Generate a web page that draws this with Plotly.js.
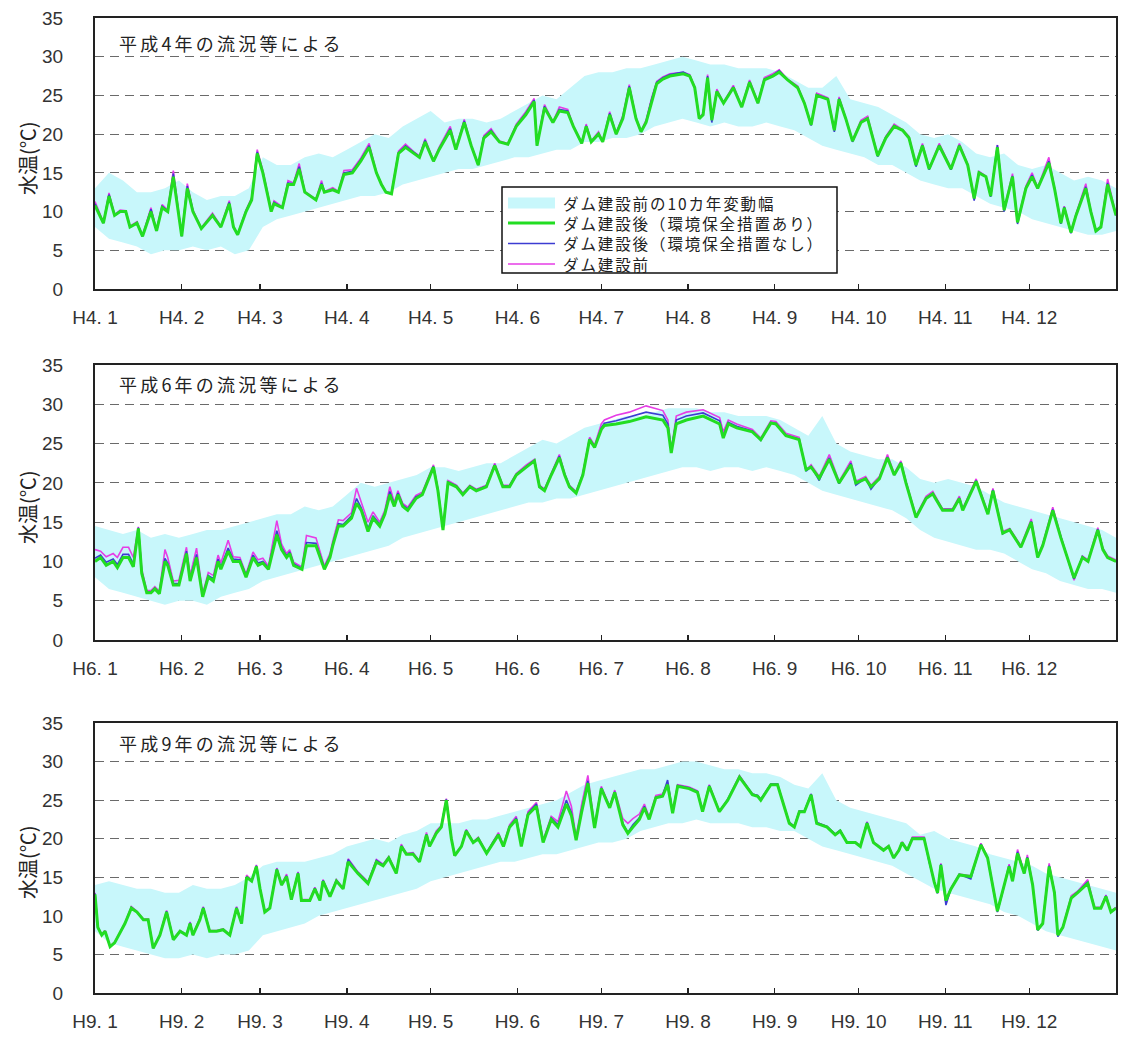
<!DOCTYPE html>
<html>
<head>
<meta charset="utf-8">
<script src="https://cdn.plot.ly/plotly-3.0.1.min.js"></script>
<style>
body{margin:0;background:#fff}
#chart{width:1121px;height:1046px}
</style>
</head>
<body>
<div id="chart"></div>
<script>
// ---------- tick labels ----------
const monthStarts = [0,31,59,90,120,151,181,212,243,273,304,334];
const monthNames = ['1','2','3','4','5','6','7','8','9','10','11','12'];
const yearLabels = ['H4','H6','H9'];
const panelTitles = ['平成4年の流況等による','平成6年の流況等による','平成9年の流況等による'];
const yTitle = '水温(℃)';
const seriesNames = ['ダム建設前の10カ年変動幅','ダム建設後（環境保全措置あり）','ダム建設後（環境保全措置なし）','ダム建設前'];

// ---------- band (10-year range before dam), every 5 days ----------
const bandDays = [0,5,10,15,20,25,30,35,40,45,50,55,60,65,70,75,80,85,90,95,
100,105,110,115,120,125,130,135,140,145,150,155,160,165,170,175,180,185,190,195,
200,205,210,215,220,225,230,235,240,245,250,255,260,265,270,275,280,285,290,295,
300,305,310,315,320,325,330,335,340,345,350,355,360,365];

const bandUpperH4 = [13,15,14,12.5,12.5,13,14,12.5,11.5,12, 12,13,17,16,16,17,17.5,17,18,19,
20,19.5,21,22,23,21.5,22,22,21.5,22, 23,24,25,24.5,26,27.5,28,28,28.5,28.5,
29,29.5,30,29.5,29,29,28.5,28.5,28.5,28, 27,26,26,27.5,24.5,24,23.5,22.5,21.5,20,
19.5,20,19,17.5,17,17.5,16,15.5,16,15, 14,14.5,14,13];
const bandLowerH4 = [8,6.5,6,5.5,4.5,5,5,5.5,5,5.5, 4.5,5,8,9,9.5,10,10.5,11,11.5,12,
12,12.5,13.5,14,14.5,15,15.5,15.5,16,16.5, 17,17,17.5,18,18,19,19,19.5,19.5,20,
21,21.5,22,21.5,21,21.5,21,21,21.5,21, 20.5,19.5,18.5,18,17.5,17,16,16,15,14,
13.5,13,13,12,11,10.5,10,9,8.5,8, 7.5,7,7,7.5];

const bandUpperH6 = [14.5,14,13.5,14,13,13.5,13,13.5,14,14, 14.5,15,15.5,16,16,17,16.5,17,18.5,20,
19.5,20,20.5,21,22,22,21.5,22,22.5,22.5, 23.5,24.5,25.5,25,26,27,27.5,28,28.5,28.5,
29,29.5,29.5,29.5,29,29,28.5,28.5,28.5,28, 27,26,28.5,25,24,23.5,23,23,22,20.5,
20,20.5,20,19.5,18.5,17.5,17,16.5,16,15.5, 15,14.5,14,13];
const bandLowerH6 = [8,6.5,6,5.5,5,4.5,5,5,4.5,5.5, 6,6.5,7.5,8,8.5,9,9.5,10,10.5,11,
11.5,12,13,13.5,14,14.5,15,15.5,16,16.5, 17,17.5,17.5,18,18,18.5,19,19.5,20,20.5,
21,21.5,22,22,21.5,22,22,21.5,22,21.5, 21,20,19,18.5,18,17.5,17,16.5,15.5,14,
13,12.5,12,11.5,11.5,11,10,9,8.5,7.5, 7,6.5,6.5,6];

const bandUpperH9 = [14,14.5,14,13.5,13.5,13,13,14,13.5,13.5, 14,15,16.5,17,17,17,17.5,18,19,19.5,
20,19.5,20.5,21,22,22,22,22.5,22.5,23, 23.5,24,24.5,25,26,27,27.5,28,28.5,29,
29,29.5,30,30,29.5,29,29,28.5,28.5,28, 27,26.5,28.5,25,24,23.5,23,22.5,22,20.5,
21,20,19.5,19,18,17.5,17,16.5,15.5,15, 14.5,14,13.5,13];
const bandLowerH9 = [8,6.5,6,5.5,5,4.5,4.5,5,4.5,5, 5,5.5,7.5,8,8.5,9,10,10.5,11,11.5,
12,12.5,13,13.5,14.5,15,15.5,16,16.5,17, 17,17.5,18,18,18.5,19,19.5,19.5,20,21,
21.5,22,22,22.5,22,22,22,21.5,21.5,21, 21,20,19,18.5,18,17.5,17,16.5,15.5,14.5,
13.5,13,12.5,12,11.5,10.5,10,9,8,7.5, 7,6.5,6,5.5];

// ---------- H4 lines ----------
const daysH4 = [0,3,5,7,9,11,12.5,15,17,20, 22,24,26,28,31,33,35,38,42,45,
48,49.5,51,54,56,58,60,63,64,67, 69,71,73,75,79,81,82,85,87,89,
92,95,98,100.6,102.4,104,106,108.5,111,114, 116,118,121,123,127,129,132,134.5,137,139,
141.6,144.6,147.6,150.6,154,157,158,160.7,163.7,166, 169,171,174,175.6,177.4,180,181.5,184,186.3,188.7,
191,193.4,195.2,197,199,200.8,203,205.5,210.3,212.6, 214.4,216,217.4,219,220.5,222.3,224.7,228.2,231.2,234,
237,239.3,242.3,244.6,247.6,251.2,253.6,256,258,262, 264.3,266,268.4,270.8,273.8,276.2,279.8,282.7,285.7,288.7,
291,293.5,295.8,298.2,301.8,306,309,312,314.3,316, 318.5,320.2,322.6,325,328,329.8,332.8,335,337,341,
343,345.3,346.5,348.9,350.7,354.2,356,357.8,359.6,362, 365];
const withH4 = [10.8,8.5,12,9.5,10,10,8,8.5,6.8,10, 7.5,10.5,10,14.5,6.8,13,10,7.8,9.5,8,
11,8,7,10,11.5,17.5,15,10,11,10.5, 13.5,13.5,15.5,12.5,11.5,13.5,12.5,12.8,12.5,14.8,
15,16.5,18.3,15,13.5,12.5,12.3,17.5,18.3,17.5, 17,19,16.5,18,20.5,18,21.5,18.5,16,19.5,
20.3,19,18.7,21,22.5,24.2,18.5,23.4,21.5,23, 22.8,21,18.8,21,19,20,19,22.5,20,22,
26,22,20.3,21.5,24.3,26.5,27.1,27.5,27.8,27.5, 26,22,22.5,27.3,21.8,25.5,24,26,23.5,26.7,
24,27,27.5,28,27,26,24,21.2,25,24.5, 20.5,24.5,22,19.1,21.5,22,17.2,19.5,21,20.5,
19.5,16,18.5,15.5,18.5,15.5,18.5,16,11.7,15, 14.5,12,18.3,10.2,14.5,8.6,13,14.5,13,16.3,
13,8.5,10.5,7.3,9.5,13,10,7.5,8,13.5, 9.5];
const withoutH4 = [11,8.5,12.2,9.5,10.1,10,8,8.6,6.8,10.3, 7.5,10.7,10.1,14.9,6.8,13.3,10.1,7.8,9.6,8,
11.2,8,7,10.1,11.6,17.7,15.1,10.1,11.2,10.5, 13.7,13.6,15.8,12.5,11.5,13.7,12.5,12.9,12.5,15,
15.2,16.7,18.5,15,13.5,12.5,12.3,17.6,18.5,17.6, 17.1,19.2,16.5,18.1,20.7,18,21.7,18.5,16,19.6,
20.5,19,18.7,21.1,22.7,24.4,18.5,23.6,21.5,23.2, 23,21,18.8,21.1,19,20.1,19,22.7,20,22.2,
26.2,22,20.3,21.6,24.5,26.7,27.3,27.7,28,27.6, 26,22,22.6,27.5,21.5,25.6,24,26.1,23.5,26.8,
24,27.1,27.6,28.2,27,26.1,24,21.1,25.1,24.6, 20.3,24.6,22,19,21.6,22.1,17.1,19.6,21.1,20.5,
19.5,15.8,18.6,15.4,18.6,15.4,18.6,16,11.4,15.1, 14.5,11.9,18.6,10,14.6,8.4,13.1,14.7,13,16.5,
13,8.4,10.6,7.2,9.6,13.2,10,7.4,8,13.7, 9.5];
const preH4 = [11.3,8.6,12.4,9.6,10.2,10.1,8.1,8.7,6.9,10.5, 7.6,10.9,10.2,15.3,6.9,13.6,10.2,7.9,9.8,8.1,
11.4,8.1,7.1,10.2,11.8,18,15.3,10.2,11.4,10.6, 14,13.7,16.2,12.6,11.6,14,12.6,13.1,12.6,15.3,
15.4,16.9,18.8,15.1,13.6,12.6,12.4,17.8,18.7,17.7, 17.2,19.4,16.6,18.3,21,18.1,21.9,18.6,16.1,19.8,
20.7,19.1,18.8,21.3,22.9,24.6,18.6,23.8,21.6,23.5, 23.2,21.1,18.9,21.3,19.1,20.3,19.1,22.9,20.1,22.4,
26.4,22.1,20.4,21.8,24.7,26.8,27.4,27.8,28,27.7, 26.1,22.1,22.7,27.7,21.9,25.8,24.1,26.3,23.6,27,
24.1,27.3,27.8,28.3,27.1,26.2,24.1,21.3,25.3,24.7, 20.6,24.8,22.1,19.2,21.8,22.3,17.3,19.7,21.3,20.6,
19.7,16.1,18.8,15.6,18.8,15.6,18.8,16.1,11.8,15.2, 14.6,12.1,18.6,10.3,14.9,8.7,13.3,15,13.1,17,
13.1,8.6,10.7,7.4,9.7,13.6,10.1,7.6,8.1,14.2, 9.6];

// ---------- H6 lines ----------
const daysH6 = [0,2,4,6.5,8,10,12,13.7,15.5,16.7, 18.5,20,21.4,23,25,26,28,30,32.7,34,
36.3,38.5,40.5,42.3,44,45,47.6,49.4,51.8,54, 56.5,58.3,60,62,65,66.7,68.5,69.6,71,74,
75.6,79,82,84,85,87,88.7,91.7,93.5,95.2, 97.6,99.4,101.8,103.6,105.4,107,108.3,110,111.8,114.7,
117,121,122.6,124.4,126.2,129.2,131.5,134,136.3,139.9, 142.9,145.8,148.2,150.6,154.2,157.1,158.9,160.7,163.1,166,
167.9,169.6,172,174.4,176.8,178.6,181,182.1,186.3,191, 197,203,204.8,206,207.8,211.4,217.4,223.3,224.6,226.4,
229.4,235,238,241.6,243.4,247,251.7,254.2,256,258.9, 262.5,266,270.2,272,275.5,277.4,280.4,283.3,285.7,288.1,
289.9,293.5,297.1,299.5,303,306.6,309,310.2,315,319.2, 321,324.5,327,331,334.7,337,338.8,342.4,345.3,350,
353,355,358.5,360.3,362,365];
const withH6 = [10,10.5,9.5,10,9.2,10.5,10.5,9.3,14.2,8.5, 6,6,6.5,5.9,10,9.5,7,7,11,7.5,
10.5,5.5,8,7.5,10,9,11.3,10,10,8, 10.5,9.5,9.8,9,13.4,11.5,10.5,11,9.5,9,
12,12,9,10.5,12,14.5,14.5,15.5,17.4,16.5, 13.8,15.5,14.5,16,18.5,17,18.5,17,16.5,18,
18.5,22,19,14,20,19.5,18.5,19.5,19,19.5, 22.2,19.5,19.5,21,22,22.8,19.5,19,21,23.2,
21,19.5,18.7,21,25.5,24.5,26.8,27.3,27.5,27.8, 28.4,28,27,23.8,27.5,28,28.5,27.5,25.7,27.5,
27,26.5,25.5,27.6,27.5,26,25.5,21.7,22,20.6, 23,20,22.3,20,20.5,19.5,20.5,23.2,21,22.5,
20,15.6,18,18.6,16.5,16.5,18,16.5,20.2,16, 19,13.6,14,11.8,15,10.5,12,16.5,13,7.9,
10.5,10,14,11.5,10.5,10];
const withoutH6 = [10.4,10.8,9.9,10.3,9.6,10.9,10.9,9.7,14.3,8.7, 6.1,6.1,6.6,6,10.4,9.8,7.2,7.2,11.3,7.8,
10.9,5.6,8.2,7.8,10.3,9.3,11.7,10.3,10.2,8.2, 10.8,9.8,10,9.2,13.9,11.8,10.7,11.2,9.7,9.1,
12.4,12.3,9.2,10.7,12.2,14.8,14.7,15.8,18,16.8, 14.2,15.8,14.7,16.2,18.9,17.2,18.7,17.2,16.7,18.2,
18.6,22.1,19.1,14,20.1,19.6,18.6,19.6,19.1,19.6, 22.3,19.6,19.6,21.1,22.1,22.9,19.6,19.1,21.1,23.4,
21.1,19.6,18.8,21.1,25.6,24.6,27,27.6,27.9,28.4, 29,28.6,27.5,24,28,28.5,28.9,27.9,26,27.7,
27.2,26.6,25.4,27.7,27.6,26.1,25.6,21.5,22.1,20.3, 23.2,19.9,22.5,19.7,20.6,19.2,20.6,23.3,21,22.6,
20.1,15.6,18.1,18.7,16.6,16.6,18.1,16.6,20.3,16.1, 19.1,13.5,14.1,11.8,15.1,10.5,12.1,16.6,13.1,7.8,
10.6,10,14.1,11.6,10.5,10];
const preH6 = [11.5,11.3,10.6,11,10.5,11.8,11.8,10.5,14.4,9, 6.3,6.3,6.8,6.2,11.5,10.5,7.5,7.6,11.8,8.2,
11.7,5.9,8.6,8.2,10.8,9.8,12.7,10.6,10.5,8.4, 11.2,10.2,10.4,9.4,15.2,12.2,11,11.5,9.9,9.3,
13.3,13,9.4,11,12.6,15.3,15.2,16.2,19.3,17.5, 15,16.3,15,16.5,19.5,17.5,19,17.4,16.9,18.4,
18.8,22.3,19.2,14.2,20.3,19.7,18.7,19.7,19.2,19.7, 22.5,19.7,19.7,21.2,22.3,23,19.7,19.2,21.2,23.6,
21.2,19.7,18.9,21.2,25.8,24.8,27.5,28,28.6,29, 29.8,29.2,28,24.2,28.5,29,29.3,28.3,26.5,28,
27.5,26.8,25.7,27.9,27.8,26.3,25.8,21.6,22.3,20.8, 23.6,20.2,22.8,20.2,20.8,19.7,20.8,23.6,21.2,22.8,
20.2,15.8,18.3,18.9,16.7,16.7,18.3,16.7,20.5,16.2, 19.3,13.8,14.2,12,15.4,10.7,12.2,16.9,13.2,7.6,
10.7,10.2,14.3,11.7,10.7,10.2];

// ---------- H9 lines ----------
const daysH9 = [0,1,2.4,3.6,5.4,7,10.7,13,15,17.3, 19,20.8,23.2,25.6,28,30.4,32.7,34,35,37.5,
38.7,41,43.5,45.8,48.2,50.6,52.4,54.2,56,57.7, 59,60.7,62.5,65,66.7,68.5,70.2,72.6,73.8,76.8,
78.6,80.4,81.5,84,86.3,88.7,90.5,94,97.6,100.6, 103,105,107.7,109.5,111.3,113.7,116,118.5,119.6,122,
123.8,125.6,127.4,128.6,131,132.7,135.2,137,140,142.3, 144.2,146,148.2,150.6,152.4,154.8,157.8,160.2,163.1,165.5,
168.5,170.3,172,174,176.2,178.6,181,184,185.8,188.7, 190.5,192.3,194.6,196.4,198.1,200.5,202.9,204.7,206.5,208.3,
212.4,215.4,217.2,219.6,223.2,226.2,230.4,235,236.9,238, 241.6,244,246.4,248.2,250,251.8,253.6,256,258,261.7,
264.6,266.4,268.8,271.8,273.6,276,278.3,281.9,283.7,285.5, 287.4,288.5,290.4,292.2,296.4,298.2,300,301.2,302.4,304.2,
306,309,313.1,316.7,319.1,322.6,324.4,326.8,328,329.8, 332.2,333.3,335.2,337,338.8,341.1,343,344.2,346,349,
351.3,354.9,357.3,359.6,361.4,363.2,365];
const withH9 = [12.8,8.5,7.5,8,6,6.5,9,11,10.5,9.5, 9.5,5.8,7.5,10.5,6.9,8,7.5,9,7.5,9.5,
11,8,8,8.2,7.5,11,9,15,14.5,16.4, 13.5,10.5,11,16,14,15.1,12.1,15.5,12,12,
13.5,12,14.5,12.5,14.5,13.5,17,15.5,14.2,17, 16.5,17.5,15.5,19,18,18,17,20.5,19,20.7,
21.5,25,20,17.8,19,21,19.5,20,18.1,19.5, 20.5,19,21.5,22.5,19,23.1,24.2,19.5,22.5,21.5,
24.5,23,19.8,23.5,27.2,21.4,26.5,24,26,21.8, 20.7,21.5,22.5,24,22.5,25.3,25.5,27,23.3,26.8,
26.5,26,23.5,26.8,23.5,25,28,25.7,25.5,25, 27,27,24,22,21.5,23.5,23.5,25.7,22,21.5,
20.5,21,19.5,19.5,19,22,19.5,18.5,19,17.5, 18.5,19.5,18.5,20,20,17,14.4,13,16.6,12,
13.5,15.3,15.1,19.2,17.5,10.6,13,16.4,14.5,18.1, 15.5,17.5,14,8.2,9,16.4,13,7.5,8.5,12.3,
13,14.2,11,11,12.5,10.5,11];
const withoutH9 = [12.9,8.5,7.5,8,6,6.5,9,11.1,10.5,9.5, 9.5,5.8,7.5,10.6,6.9,8,7.5,9.1,7.5,9.6,
11.1,8,8,8.2,7.5,11.1,9,15.1,14.5,16.5, 13.5,10.5,11,16.1,14,15.2,12.1,15.6,12,12,
13.6,12,14.6,12.5,14.6,13.5,17.3,15.6,14.3,17.2, 16.6,17.6,15.5,19.1,18,18.1,17,20.6,19,20.8,
21.6,25.1,20,17.8,19,21.1,19.5,20.1,18.1,19.6, 20.6,19.1,21.6,22.7,19.1,23.3,24.5,19.6,22.7,21.8,
25,23.4,19.9,23.8,27.5,21.5,26.6,24.1,26.1,22, 20.8,21.8,22.7,24.2,22.6,25.4,25.6,27.6,23.4,26.9,
26.6,26.1,23.5,26.9,23.5,25.1,28.1,25.8,25.6,25.1, 27.1,27.1,24.1,22.1,21.6,23.6,23.6,25.8,22.1,21.6,
20.6,21.1,19.5,19.5,19,22.1,19.5,18.5,19,17.5, 18.5,19.5,18.5,20.1,20.1,17,14.4,12.9,16.7,11.4,
13.5,15.4,14.8,19.3,17.5,10.5,13,16.5,14.5,18.3, 15.5,17.6,14,8.1,9,16.5,13,7.3,8.5,12.4,
13.1,14.4,11,11,12.6,10.5,11];
const preH9 = [13,8.6,7.6,8.1,6.1,6.6,9.1,11.2,10.6,9.6, 9.6,5.9,7.6,10.7,7,8.1,7.6,9.2,7.6,9.7,
11.2,8.1,8.1,8.3,7.6,11.2,9.1,15.3,14.6,16.6, 13.6,10.6,11.1,16.2,14.1,15.4,12.2,15.7,12.1,12.1,
13.7,12.1,14.7,12.6,14.7,13.6,17.4,15.7,14.4,17.3, 16.7,17.7,15.6,19.3,18.1,18.2,17.1,20.8,19.1,21,
21.7,25.2,20.1,17.9,19.1,21.2,19.6,20.2,18.2,19.7, 20.8,19.2,21.8,22.9,19.3,23.5,24.7,19.8,22.9,22.2,
26.2,24.2,20.2,24.5,28.2,21.6,26.8,24.2,26.3,22.6, 22,22.6,23.2,24.5,22.8,25.6,25.8,27.3,23.5,27,
26.7,26.2,23.6,27,23.6,25.1,28.2,25.8,25.6,25.1, 27.1,27.1,24.1,22.1,21.6,23.6,23.6,25.8,22.1,21.6,
20.6,21.1,19.6,19.6,19.1,22.2,19.6,18.6,19.1,17.6, 18.6,19.6,18.6,20.2,20.2,17.1,14.5,13.1,16.8,12.1,
13.6,15.4,15.2,19.4,17.6,10.8,13.1,16.7,14.6,18.6, 15.6,17.9,14.1,8.3,9.1,16.8,13.1,7.4,8.6,12.6,
13.2,14.7,11.1,11.1,12.7,10.6,11.1];

// ---------- assemble ----------
const panels = [
  {days: daysH4, withM: withH4, withoutM: withoutH4, pre: preH4, up: bandUpperH4, lo: bandLowerH4},
  {days: daysH6, withM: withH6, withoutM: withoutH6, pre: preH6, up: bandUpperH6, lo: bandLowerH6},
  {days: daysH9, withM: withH9, withoutM: withoutH9, pre: preH9, up: bandUpperH9, lo: bandLowerH9}
];
panels.forEach((p,i)=>{
  [p.withM,p.withoutM,p.pre].forEach(a=>{ if(a.length!==p.days.length) console.warn('length mismatch panel',i,a.length,p.days.length); });
});

const W = 1121, H = 1046;
const plotTop = [18, 365, 723];
const plotBot = [289, 640, 993];
const xDom = [95/W, 1116/W];
const titleY = [43, 384, 743];
const yTitleY = [158, 507, 862];

const BAND = '#c8f7fb', GREEN = '#22dd22', BLUE = '#3c3cd2', MAGENTA = '#e63de6';
const px = v => v / W, py = v => 1 - v / H;
const spaced = (t, s) => '<span style="letter-spacing:' + s + 'px">' + t + '</span>';

const traces = [];
panels.forEach((p, i) => {
  const xa = i === 0 ? 'x' : 'x' + (i + 1);
  const ya = i === 0 ? 'y' : 'y' + (i + 1);
  traces.push({x: bandDays, y: p.lo, xaxis: xa, yaxis: ya, type: 'scatter', mode: 'lines',
    line: {width: 0, color: BAND}, showlegend: false, hoverinfo: 'skip'});
  traces.push({x: bandDays, y: p.up, xaxis: xa, yaxis: ya, type: 'scatter', mode: 'lines',
    fill: 'tonexty', fillcolor: BAND, line: {width: 0, color: BAND},
    name: seriesNames[0], showlegend: false});
  traces.push({x: p.days, y: p.pre, xaxis: xa, yaxis: ya, type: 'scatter', mode: 'lines',
    line: {width: 1.6, color: MAGENTA}, name: seriesNames[3], showlegend: false});
  traces.push({x: p.days, y: p.withoutM, xaxis: xa, yaxis: ya, type: 'scatter', mode: 'lines',
    line: {width: 1.6, color: BLUE}, name: seriesNames[2], showlegend: false});
  traces.push({x: p.days, y: p.withM, xaxis: xa, yaxis: ya, type: 'scatter', mode: 'lines',
    line: {width: 3, color: GREEN}, name: seriesNames[1], showlegend: false});
});

const layout = {
  width: W, height: H,
  margin: {l: 0, r: 0, t: 0, b: 0},
  paper_bgcolor: '#fff', plot_bgcolor: '#fff',
  showlegend: false,
  annotations: [],
  shapes: [],
  hovermode: false
};

panels.forEach((p, i) => {
  const sfx = i === 0 ? '' : String(i + 1);
  const yDom = [1 - plotBot[i]/H, 1 - plotTop[i]/H];
  layout['xaxis' + sfx] = {
    domain: xDom, anchor: 'y' + sfx, range: [0, 365],
    tickmode: 'array', tickvals: monthStarts,
    ticktext: monthNames.map(m => yearLabels[i] + '. ' + m),
    ticks: 'inside', ticklen: 5, tickwidth: 1.5, tickcolor: '#222',
    showline: true, mirror: true, linecolor: '#222', linewidth: 2,
    showgrid: false, zeroline: false, fixedrange: true,
    tickfont: {family: 'Liberation Sans', size: 19, color: '#333'},
    ticklabelstandoff: 10
  };
  layout['yaxis' + sfx] = {
    domain: yDom, anchor: 'x' + sfx, range: [0, 35],
    tickmode: 'array', tickvals: [0,5,10,15,20,25,30,35],
    ticks: '', showline: true, mirror: true, linecolor: '#222', linewidth: 2,
    showgrid: true, gridcolor: '#6a6a6a', gridwidth: 1, griddash: '9px,6px',
    zeroline: false, fixedrange: true,
    tickfont: {family: 'Liberation Sans', size: 19, color: '#333'},
    ticklabelstandoff: 26
  };
  layout.annotations.push({
    text: spaced(panelTitles[i], 3.2), xref: 'paper', yref: 'paper',
    x: px(118), y: py(titleY[i]), xanchor: 'left', yanchor: 'middle',
    showarrow: false, borderpad: 0, font: {family: 'Noto Sans CJK JP', size: 18, color: '#222'}
  });
  layout.annotations.push({
    text: yTitle, xref: 'paper', yref: 'paper', textangle: -90,
    x: px(27), y: py(yTitleY[i]), xanchor: 'center', yanchor: 'middle',
    showarrow: false, borderpad: 0, font: {family: 'Noto Sans CJK JP', size: 20, color: '#222'}
  });
});

// ---------- legend (drawn as layout decoration in panel 1) ----------
const lgBox = {x0: 502, x1: 837, y0: 187, y1: 273};
const lgRowY = [203, 223, 243.5, 264];
const lgSym = [508, 555];
layout.shapes.push({type: 'rect', xref: 'paper', yref: 'paper',
  x0: px(lgBox.x0), x1: px(lgBox.x1), y0: py(lgBox.y1), y1: py(lgBox.y0),
  line: {color: '#111', width: 1.5}, fillcolor: '#fff', layer: 'above'});
layout.shapes.push({type: 'rect', xref: 'paper', yref: 'paper',
  x0: px(lgSym[0]), x1: px(lgSym[1]), y0: py(lgRowY[0] + 5.5), y1: py(lgRowY[0] - 5.5),
  line: {width: 0}, fillcolor: BAND, layer: 'above'});
[[GREEN, 3], [BLUE, 1.6], [MAGENTA, 1.6]].forEach(([c, w], k) => {
  layout.shapes.push({type: 'line', xref: 'paper', yref: 'paper',
    x0: px(lgSym[0]), x1: px(lgSym[1]), y0: py(lgRowY[k + 1]), y1: py(lgRowY[k + 1]),
    line: {color: c, width: w}, layer: 'above'});
});
seriesNames.forEach((n, k) => {
  layout.annotations.push({text: spaced(n, 1.9), xref: 'paper', yref: 'paper',
    x: px(562), y: py(lgRowY[k]), xanchor: 'left', yanchor: 'middle', showarrow: false,
    borderpad: 0, font: {family: 'Noto Sans CJK JP', size: 15.5, color: '#222'}});
});

Plotly.newPlot('chart', traces, layout, {displayModeBar: false, staticPlot: true});
</script>
</body>
</html>
